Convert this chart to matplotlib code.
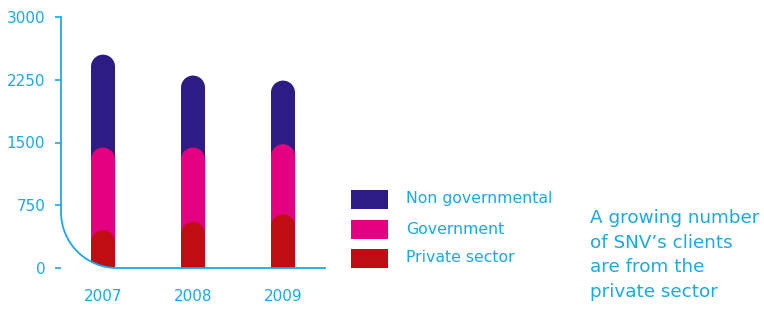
import numpy as np
import matplotlib
matplotlib.use("Agg")
import matplotlib.pyplot as plt
from matplotlib.path import Path
from matplotlib.patches import Rectangle, Ellipse

# data (top of each rounded bar)
years = ["2007", "2008", "2009"]
non_governmental = [2550, 2300, 2240]
government = [1440, 1440, 1480]
private_sector = [450, 550, 640]
series_names = ["Non governmental", "Government", "Private sector"]
y_ticks = [0, 750, 1500, 2250, 3000]
note = "A growing number\nof SNV\u2019s clients\nare from the\nprivate sector"

blue = "#1AA9E6"
colours = ["#2E1C85", "#E4007F", "#C00D14"]

W, H, DPI = 764, 324, 100
fig = plt.figure(figsize=(W / DPI, H / DPI), dpi=DPI)
plt.rcParams['font.family'] = ['DejaVu Sans']

# axes box in pixels
left_px, right_px, top_px, bottom_px = 61, 325, 17, 268
ax = fig.add_axes([left_px / W, 1 - bottom_px / H,
                   (right_px - left_px) / W, (bottom_px - top_px) / H])
ax_w = right_px - left_px
ax_h = bottom_px - top_px

x = np.arange(len(years))
ax.set_xlim(-0.467, 2.467)
ax.set_ylim(0, 3000)

bar_px = 24
bar_w = bar_px / (ax_w / (2.467 + 0.467))
r_y = (bar_px / 2) * 3000 / ax_h  # cap radius in data units

# rounded corner of the axis, used for clipping too
rad = 56
rx, ry = rad / ax_w, rad / ax_h
t = np.linspace(0, np.pi / 2, 40)
arc_x = rx * (1 - np.cos(t))
arc_y = ry * (1 - np.sin(t))
clip_verts = [(0, 1.2)] + list(zip(arc_x, arc_y)) + [(1.2, 0), (1.2, 1.2), (0, 1.2)]
clip_path = Path(clip_verts)

for vals, col in zip([non_governmental, government, private_sector], colours):
    for xi, v in zip(x, vals):
        b = ax.bar(xi, v - r_y, width=bar_w, color=col, linewidth=0, zorder=2)
        for p in b:
            p.set_clip_path(clip_path, ax.transAxes)
        cap = Ellipse((xi, v - r_y), bar_w, 2 * r_y, color=col, lw=0,
                      zorder=2, clip_on=False)
        ax.add_patch(cap)

# axis line: vertical, arc, horizontal
line_x = [0] + list(arc_x) + [1]
line_y = [1] + list(arc_y) + [0]
ax.plot(line_x, line_y, color=blue, lw=1.3, transform=ax.transAxes,
        clip_on=False, zorder=3)
for s in ax.spines.values():
    s.set_visible(False)

ax.set_yticks(y_ticks)
ax.set_yticklabels([str(v) for v in y_ticks])
ax.tick_params(axis="y", colors=blue, labelcolor=blue, length=4.3, width=1.2,
               pad=7, labelsize=11)
ax.set_xticks(x)
ax.set_xticklabels(years)
ax.tick_params(axis="x", length=0, labelcolor=blue, labelsize=11, pad=15)

# legend drawn by hand
leg_y = [199, 229, 258]
for name, col, yy in zip(series_names, colours, leg_y):
    fig.add_artist(Rectangle((351 / W, 1 - (yy + 9.5) / H), 37 / W, 19 / H,
                             transform=fig.transFigure, color=col, lw=0))
    fig.text(406 / W, 1 - yy / H, name, color=blue, fontsize=11.3,
             va="center", ha="left")

fig.text(590 / W, 1 - 209 / H, note, color=blue, fontsize=13.2,
         va="top", ha="left", linespacing=1.47)

fig.savefig("out.png", dpi=DPI)
